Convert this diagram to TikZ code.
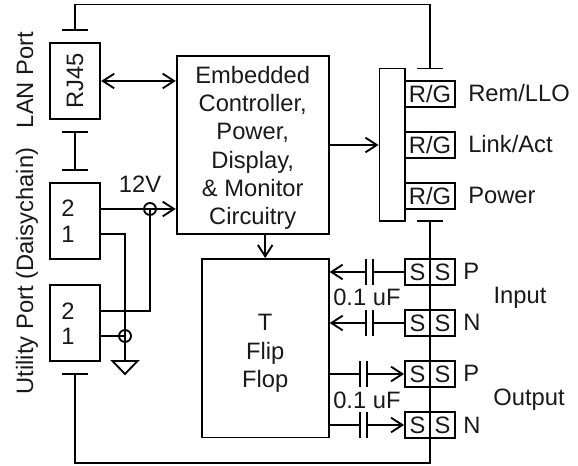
\documentclass[tikz,border=0pt]{standalone}
\usepackage{fontspec}
\setmainfont{Liberation Sans}
\usetikzlibrary{arrows.meta}
\def\pxu{0.75pt}
\tikzset{
  wire/.style={line width=1.4pt},
  arr/.style={wire,-{Straight Barb[length=8.5pt,width=11pt,line width=1.4pt]}},
  dbl/.style={wire,{Straight Barb[length=8.5pt,width=11pt,line width=1.4pt]}-{Straight Barb[length=8.5pt,width=11pt,line width=1.4pt]}},
  txt/.style={inner sep=0pt,font=\fontsize{17.8}{21.2}\selectfont,text=black!90},
  box/.style={draw,line width=1.4pt,inner sep=0pt,txt},
  port/.style={box,minimum width=50.5*\pxu,minimum height=76*\pxu},
  led/.style={box,minimum width=50*\pxu,minimum height=25.5*\pxu},
  sw/.style={box,minimum width=25*\pxu,minimum height=26*\pxu},
  ring/.style={draw,circle,line width=1.4pt,minimum size=12*\pxu,inner sep=0pt},
  lbl/.style={txt,anchor=base west},
  side/.style={txt,rotate=90,anchor=base},
}
\begin{document}
\begin{tikzpicture}[x=0.75pt,y=-0.75pt]
\useasboundingbox (0,0) rectangle (578,466);
% boxes
\node[port] (rj) at (75,81) {};
\node[side] (rjt) at (83,81) {RJ45};
\node[port] (p1) at (75,221) {};
\node[port] (p2) at (75,323) {};
\node[box,minimum width=152*\pxu,minimum height=178*\pxu,align=center] (ctrl) at (252.7,145)
  {\rule{0pt}{17pt}Embedded\\Controller,\\Power,\\Display,\\\& Monitor\\Circuitry};
\node[box,minimum width=127*\pxu,minimum height=178.5*\pxu,align=center] (ff) at (265.2,348.2)
  {\rule{0pt}{20pt}T\\Flip\\Flop};
\node[box,minimum width=25.5*\pxu,minimum height=152.5*\pxu] (bar) at (392.2,144.8) {};
\node[led] (l1) at (430,94) {R/G};
\node[led] (l2) at (430,145) {R/G};
\node[led] (l3) at (430,196) {R/G};
\foreach \n/\y in {a/272,b/323,c/374,d/425}{
  \node[sw] (s\n l) at (417.5,\y) {S};
  \node[sw] (s\n r) at (442.5,\y) {S};
}
% text
\node[txt] (n2a) at (68,208.5) {2};
\node[txt] (n1a) at (68,234) {1};
\node[txt] (n2b) at (68,311) {2};
\node[txt] (n1b) at (68,336) {1};
\node[side] (lan) at (33,80) {LAN Port};
\node[side] (util) at (33,271) {Utility Port (Daisychain)};
\node[txt] (v12) at (140,184) {12V};
\node[lbl] (t1) at (468,102) {Rem/LLO};
\node[lbl] (t2) at (468,153) {Link/Act};
\node[lbl] (t3) at (468,204) {Power};
\node[lbl] (tp1) at (463,280) {P};
\node[lbl] (tn1) at (463,331) {N};
\node[lbl] (tp2) at (463,382) {P};
\node[lbl] (tn2) at (463,433) {N};
\node[txt] (tin) at (520,298) {Input};
\node[txt] (tout) at (529,400) {Output};
\node[lbl] (cap1) at (333,306) {0.1 uF};
\node[lbl] (cap2) at (333,408) {0.1 uF};
% coordinates
\coordinate (b1) at (75,30);
\coordinate (b2) at (75,132);
\coordinate (b3) at (75,170);
\coordinate (b4) at (75,374);
\coordinate (b5) at (430,68.5);
\coordinate (b6) at (430,221);
\foreach \c in {b1,b2,b3,b4,b5,b6}{
  \draw[wire] ([xshift=-13*\pxu]\c) -- ([xshift=13*\pxu]\c);
}
\coordinate (top) at (0,4.5);
\coordinate (bot) at (0,463);
\draw[wire] (b1) -- (b1|-top) -- (b5|-top) -- (b5);
\draw[wire] (b2) -- (b3);
\draw[wire] (b4) -- (b4|-bot) -- (b6|-bot) -- (b6);
% arrows
\coordinate (ya) at (0,81);
\draw[dbl] (rj.east|-ya) -- (ctrl.west|-ya);
\node[ring] (r12) at (150,209) {};
\node[ring] (rg) at (125,336) {};
\draw[arr] (p1.east|-r12) -- (ctrl.west|-r12);
\coordinate (y2) at (0,311);
\draw[wire] (r12.center) -- (r12|-y2) -- (p2.east|-y2);
\coordinate (y1) at (0,234);
\coordinate (gt) at (125,361);
\coordinate (ga) at (125,374);
\draw[wire] (p1.east|-y1) -- (gt|-y1) -- (gt);
\draw[wire] (p2.east|-rg) -- (rg.center);
\draw[wire,line join=miter] ([xshift=-12.5*\pxu]gt) -- ([xshift=12.5*\pxu]gt) -- (ga) -- cycle;
\draw[arr] (ctrl.south-|ff) -- (ff.north);
\draw[arr] (ctrl.east|-l2) -- (bar.west|-l2);
% capacitors
\foreach \n/\y in {a/272,b/323}{
  \coordinate (pa\n) at (366,\y);
  \coordinate (pb\n) at (373,\y);
  \draw[arr] (pa\n) -- (ff.east|-pa\n);
  \draw[wire] (s\n l.west) -- (pb\n);
  \draw[wire] ([yshift=13*\pxu]pa\n) -- ([yshift=-13*\pxu]pa\n);
  \draw[wire] ([yshift=13*\pxu]pb\n) -- ([yshift=-13*\pxu]pb\n);
}
\foreach \n/\y in {c/374,d/425}{
  \coordinate (pa\n) at (360,\y);
  \coordinate (pb\n) at (367,\y);
  \draw[wire] (ff.east|-pa\n) -- (pa\n);
  \draw[arr] (pb\n) -- (s\n l.west);
  \draw[wire] ([yshift=13*\pxu]pa\n) -- ([yshift=-13*\pxu]pa\n);
  \draw[wire] ([yshift=13*\pxu]pb\n) -- ([yshift=-13*\pxu]pb\n);
}
\end{tikzpicture}
\end{document}
